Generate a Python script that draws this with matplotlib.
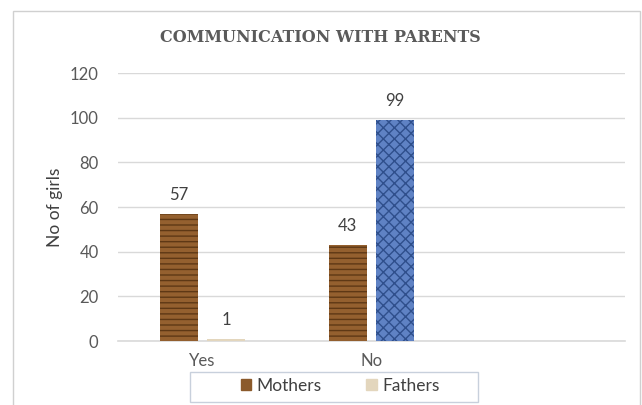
import matplotlib
matplotlib.use("Agg")
import matplotlib.pyplot as plt
from matplotlib.patches import Rectangle, Patch
import numpy as np

plt.rcParams['font.family'] = ['Lato', 'DejaVu Sans']

categories = ["Yes", "No", ""]
mothers = [57, 43, None]
fathers = [1, 99, None]
y_ticks = [0, 20, 40, 60, 80, 100, 120]

fig = plt.figure(figsize=(6.42, 4.05), dpi=100)
fig.patch.set_facecolor("white")
# outer chart frame
fig.add_artist(Rectangle((13/642, -0.05), (640-13)/642, 1 - 11/405 + 0.05,
                         transform=fig.transFigure, fill=False,
                         edgecolor="#d0d0d0", linewidth=1.0))

ax = fig.add_axes([118/642, 1-341/405, (625-118)/642, (341-73)/405])
x = np.arange(len(categories))
w = 0.225
off = 0.14

m_vals = [v if v is not None else 0 for v in mothers]
f_vals = [v if v is not None else 0 for v in fathers]
ax.bar(x[:2] - off, m_vals[:2], width=w, color="#94602f", edgecolor="#5e3815",
       hatch="---", linewidth=0, zorder=3)
f_colors = ["#e3d6bd", "#5f82c4"]
f_edges = ["#c9b898", "#2f4f8c"]
f_hatch = ["", "xxx"]
for i in range(2):
    ax.bar(x[i] + off, f_vals[i], width=w, color=f_colors[i], edgecolor=f_edges[i],
           hatch=f_hatch[i], linewidth=0, zorder=3)

for i in range(2):
    ax.annotate(str(mothers[i]), (x[i] - off, mothers[i]), xytext=(0, 8),
                textcoords="offset points", ha="center", va="bottom",
                fontsize=12, color="#404040")
    ax.annotate(str(fathers[i]), (x[i] + off, fathers[i]), xytext=(0, 8),
                textcoords="offset points", ha="center", va="bottom",
                fontsize=12, color="#404040")

ax.set_xlim(-0.5, 2.5)
ax.set_ylim(0, 120)
ax.set_yticks(y_ticks)
ax.set_xticks(x)
ax.set_xticklabels(categories)
ax.grid(axis="y", color="#d9d9d9", linewidth=1, zorder=0)
ax.axhline(0, color="#d9d9d9", linewidth=1.2, zorder=2, clip_on=False)
ax.set_axisbelow(True)
for s in ax.spines.values():
    s.set_visible(False)
ax.tick_params(axis="both", length=0, colors="#595959", labelsize=12)
ax.tick_params(axis="y", pad=14)
ax.tick_params(axis="x", pad=9)
ax.set_ylabel("No of girls", fontsize=12.5, color="#404040", labelpad=5)

fig.text((150+490)/2/642, 1-38/405, "COMMUNICATION WITH PARENTS",
         ha="center", va="center", fontsize=11.5, fontweight="bold",
         family="DejaVu Serif", color="#5a5a5a")

# legend box
fig.add_artist(Rectangle((190/642, 1-402/405), (478-190)/642, 30/405,
                         transform=fig.transFigure, fill=True, facecolor="white",
                         edgecolor="#c8d0dc", linewidth=1))
handles = [Patch(facecolor="#8b5a2b", edgecolor="#8b5a2b"),
           Patch(facecolor="#e3d6bd", edgecolor="#e3d6bd")]
leg = fig.legend(handles, ["Mothers", "Fathers"], loc="center",
                 bbox_to_anchor=(340/642, 1-386/405), ncol=2, frameon=False,
                 fontsize=12.5, handlelength=0.6, handleheight=0.6,
                 columnspacing=2.6, handletextpad=0.3, borderpad=0.3)
for t in leg.get_texts():
    t.set_color("#404040")

fig.savefig("out.png", dpi=100)
